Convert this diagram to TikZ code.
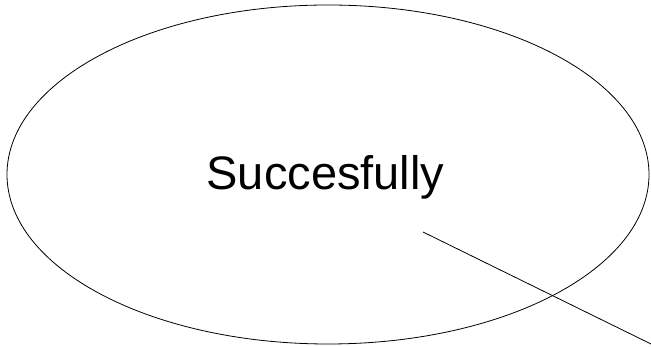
\documentclass[tikz,border=0pt]{standalone}
\usepackage{fontspec}
\setmainfont{Liberation Sans}
\usetikzlibrary{shapes.geometric}
\tikzset{
  bubble/.style={draw, ellipse, line width=0.8pt, minimum width=642pt, minimum height=339pt, inner sep=0pt},
  caption/.style={font=\fontsize{47}{56}\selectfont, anchor=base, inner sep=0pt},
  link/.style={line width=0.8pt}
}
\begin{document}
\begin{tikzpicture}[x=1pt,y=1pt]
  \useasboundingbox (0,0) rectangle (651,347);
  \node[bubble] (e) at (328,172.5) {};
  \node[caption] (t) at (325.5,157) {Succesfully};
  \coordinate (p) at (423,115);
  \coordinate (q) at (651,3);
  \draw[link] (p) -- (q);
\end{tikzpicture}
\end{document}
